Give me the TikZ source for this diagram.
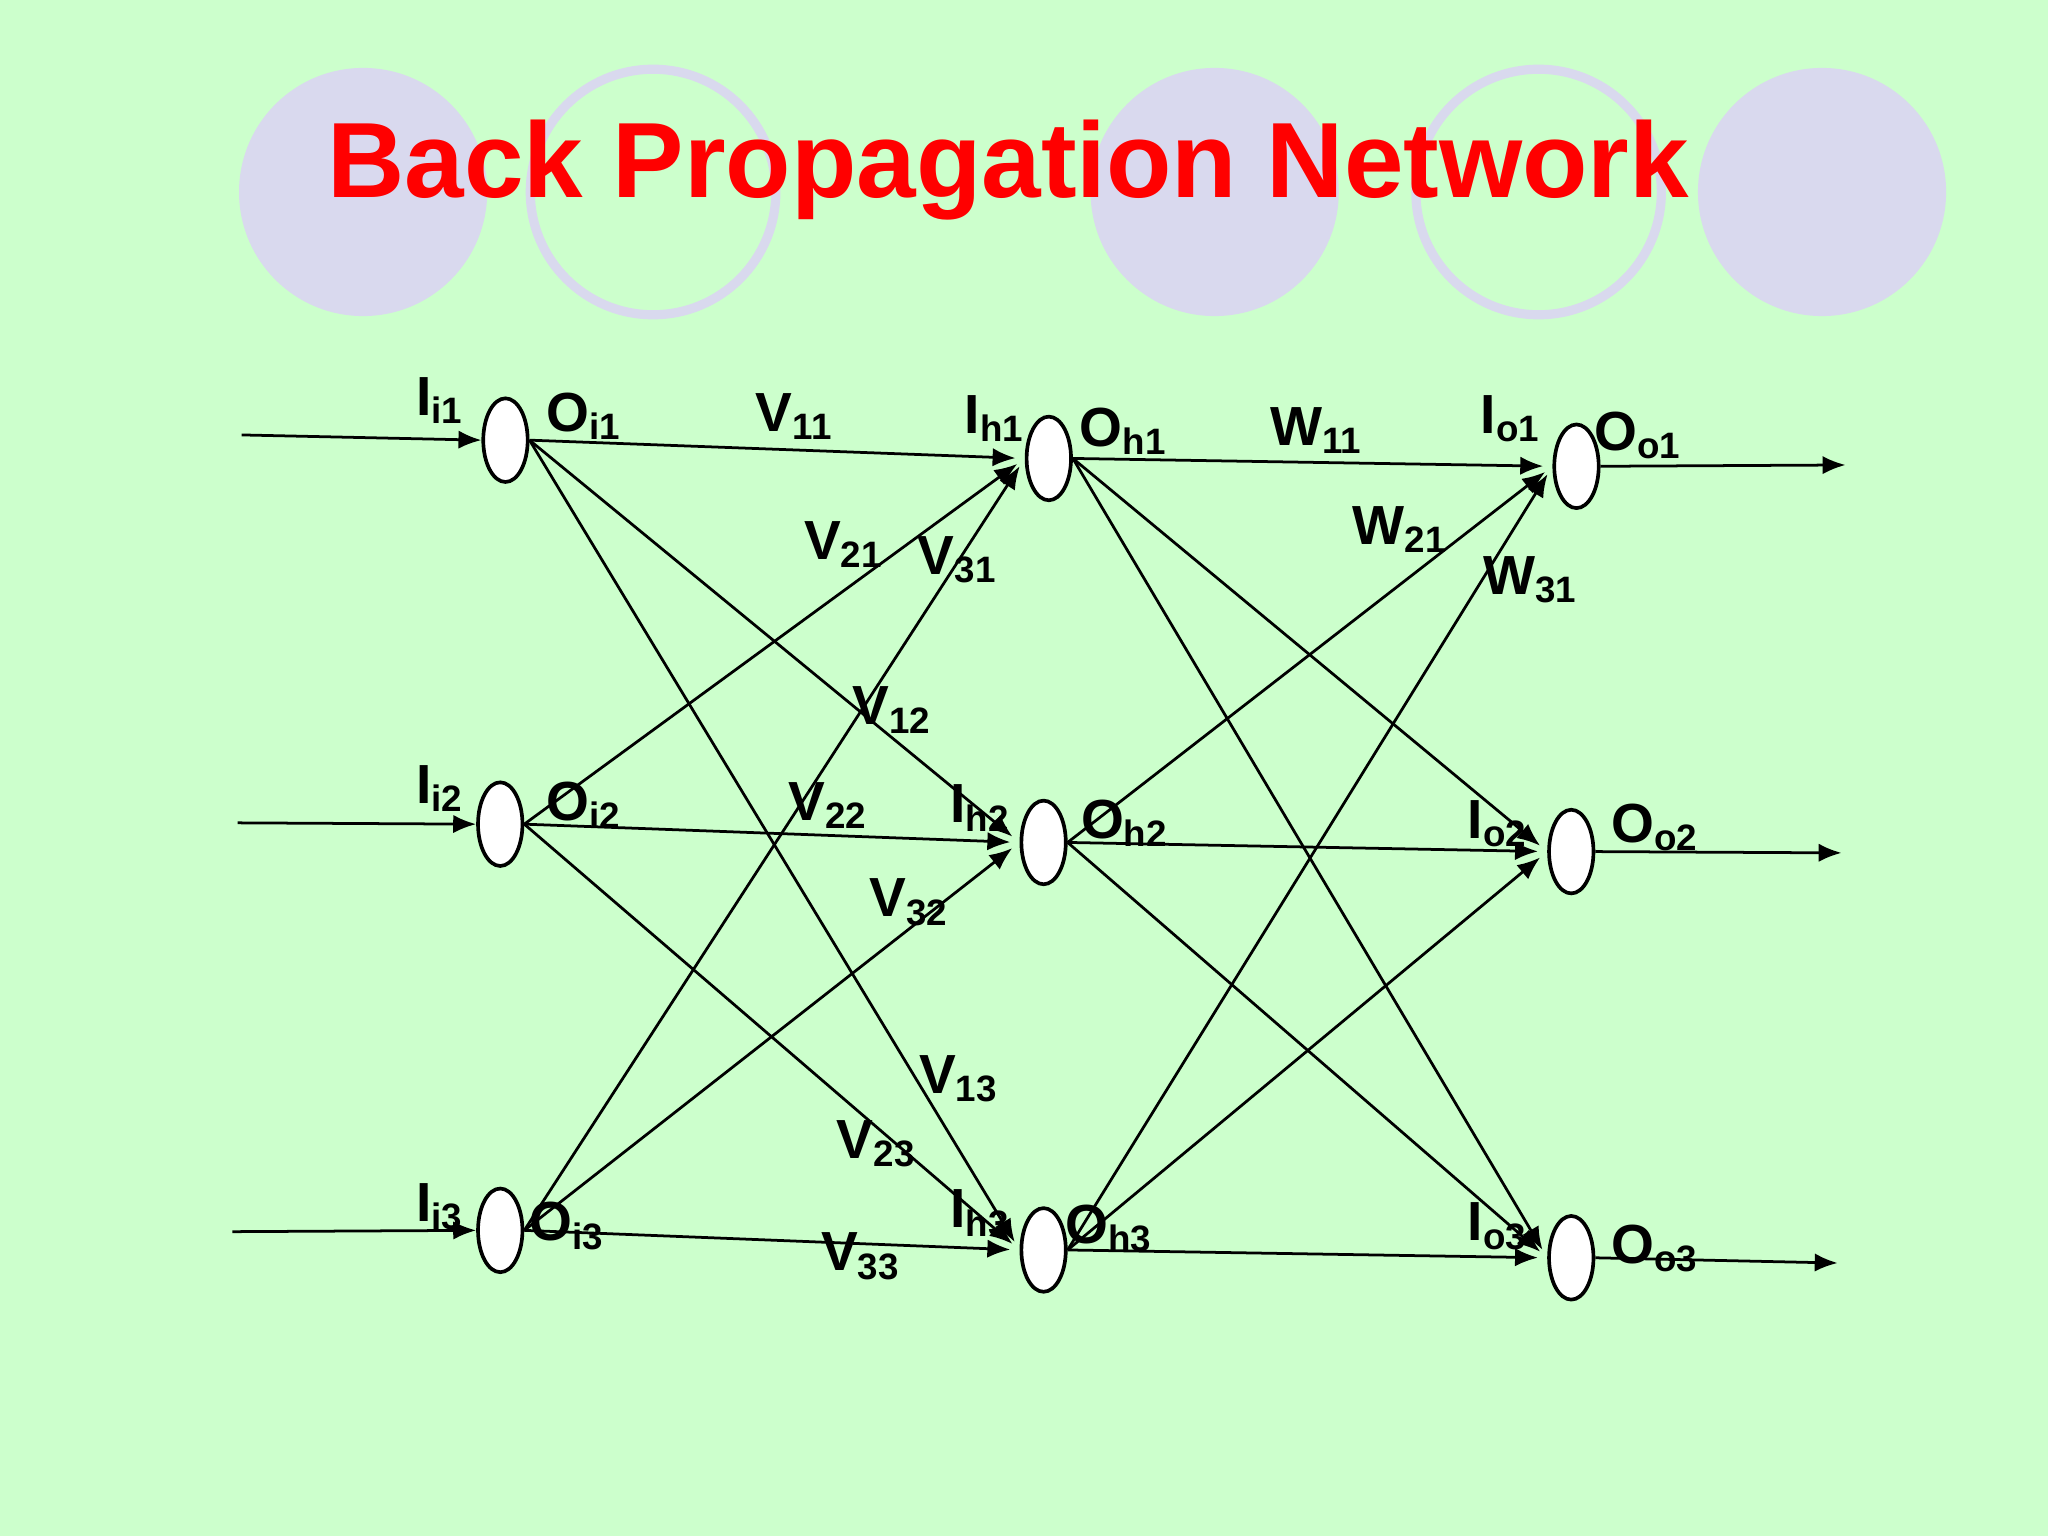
\documentclass[tikz,border=0pt]{standalone}
\usepackage{fontspec}
\setmainfont{Liberation Sans}
\usetikzlibrary{shapes.geometric,arrows.meta}
\begin{document}
\begin{tikzpicture}[x=0.01cm,y=-0.01cm,
  neuron/.style={draw,fill=white,ellipse,minimum width=0.34cm,minimum height=0.64cm,inner sep=0pt,line width=0.8pt},
  conn/.style={-{Latex[length=5pt,width=4pt]},line width=0.6pt},
  lbl/.style={anchor=base west,font=\bfseries\fontsize{12}{14}\selectfont,inner sep=0pt}]
\definecolor{bg}{RGB}{204,255,204}
\definecolor{lav}{RGB}{217,217,238}
\fill[bg] (0,0) rectangle (1568,1176);
\useasboundingbox (0,0) rectangle (1568,1176);
\fill[lav] (278,147) circle (95);
\draw[lav,line width=2pt] (500,147) circle (94);
\fill[lav] (930,147) circle (95);
\draw[lav,line width=2pt] (1178,147) circle (94);
\fill[lav] (1395,147) circle (95);
\node[text=red,font=\bfseries\fontsize{23.3}{26}\selectfont] (title) at (772,130) {Back Propagation Network};
\node[neuron] (i1) at (387,337) {}; \node[neuron] (i2) at (383,631) {}; \node[neuron] (i3) at (383,942) {};
\node[neuron] (h1) at (803,351) {}; \node[neuron] (h2) at (799,645) {}; \node[neuron] (h3) at (799,957) {};
\node[neuron] (o1) at (1207,357) {}; \node[neuron] (o2) at (1203,652) {}; \node[neuron] (o3) at (1203,963) {};
\coordinate (a1) at (185,333); \coordinate (a2) at (182,630); \coordinate (a3) at (178,943);
\coordinate (b1) at (1413,356); \coordinate (b2) at (1410,653); \coordinate (b3) at (1407,967);
\draw[conn] (a1) -- (i1.west); \draw[conn] (a2) -- (i2.west); \draw[conn] (a3) -- (i3.west);
\draw[conn] (o1.east) -- (b1); \draw[conn] (o2.east) -- (b2); \draw[conn] (o3.east) -- (b3);
\foreach \s in {i1,i2,i3}{\foreach \t in {h1,h2,h3}{\draw[conn,shorten >=2pt] (\s.east) -- (\t.west);}}
\foreach \s in {h1,h2,h3}{\foreach \t in {o1,o2,o3}{\draw[conn,shorten >=2pt] (\s.east) -- (\t.west);}}
\node[lbl] (l1) at (318,318) {I\textsubscript{i1}};
\node[lbl] (l2) at (418,330) {O\textsubscript{i1}};
\node[lbl] (l3) at (578,330) {V\textsubscript{11}};
\node[lbl] (l4) at (738,332) {I\textsubscript{h1}};
\node[lbl] (l5) at (826,342) {O\textsubscript{h1}};
\node[lbl] (l6) at (972,341) {W\textsubscript{11}};
\node[lbl] (l7) at (1133,332) {I\textsubscript{o1}};
\node[lbl] (l8) at (1220,345) {O\textsubscript{o1}};
\node[lbl] (l9) at (615,428) {V\textsubscript{21}};
\node[lbl] (l10) at (702,440) {V\textsubscript{31}};
\node[lbl] (l11) at (1035,417) {W\textsubscript{21}};
\node[lbl] (l12) at (1135,455) {W\textsubscript{31}};
\node[lbl] (l13) at (652,555) {V\textsubscript{12}};
\node[lbl] (l14) at (318,615) {I\textsubscript{i2}};
\node[lbl] (l15) at (418,628) {O\textsubscript{i2}};
\node[lbl] (l16) at (603,628) {V\textsubscript{22}};
\node[lbl] (l17) at (727,630) {I\textsubscript{h2}};
\node[lbl] (l18) at (827,642) {O\textsubscript{h2}};
\node[lbl] (l19) at (1123,642) {I\textsubscript{o2}};
\node[lbl] (l20) at (1233,645) {O\textsubscript{o2}};
\node[lbl] (l21) at (665,702) {V\textsubscript{32}};
\node[lbl] (l22) at (703,837) {V\textsubscript{13}};
\node[lbl] (l23) at (640,887) {V\textsubscript{23}};
\node[lbl] (l24) at (318,935) {I\textsubscript{i3}};
\node[lbl] (l25) at (405,950) {O\textsubscript{i3}};
\node[lbl] (l26) at (727,940) {I\textsubscript{h3}};
\node[lbl] (l27) at (815,952) {O\textsubscript{h3}};
\node[lbl] (l28) at (628,973) {V\textsubscript{33}};
\node[lbl] (l29) at (1123,950) {I\textsubscript{o3}};
\node[lbl] (l30) at (1233,967) {O\textsubscript{o3}};
\end{tikzpicture}
\end{document}
